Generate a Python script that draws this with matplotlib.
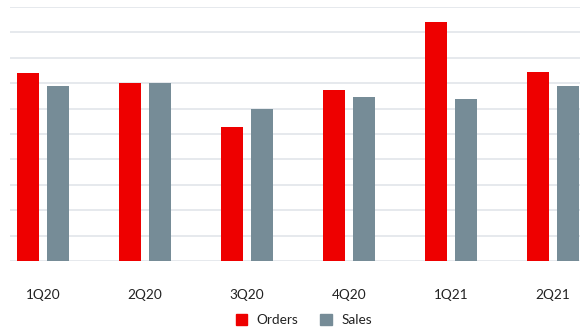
import matplotlib
matplotlib.use("Agg")
import matplotlib.pyplot as plt
import numpy as np
from matplotlib.patches import Patch

categories = ["1Q20", "2Q20", "3Q20", "4Q20", "1Q21", "2Q21"]
orders = [7.39, 7.0, 5.28, 6.73, 9.41, 7.45]
sales = [6.9, 7.0, 5.98, 6.46, 6.37, 6.9]

plt.rcParams['font.family'] = ['Lato', 'DejaVu Sans']

fig = plt.figure(figsize=(5.8, 3.29), dpi=100)
ax = fig.add_axes([10/580, (329-261)/329, 570/580, (261-7)/329])

x = np.arange(len(categories))
w = 0.216
off = 0.147
red = "#EE0000"
gray = "#768C97"
ax.bar(x - off, orders, w, color=red, zorder=3)
ax.bar(x + off, sales, w, color=gray, zorder=3)

ax.set_xlim(-0.324, 5.265)
ax.set_ylim(0, 10)
ax.set_yticks(np.arange(0, 11, 1))
ax.yaxis.grid(True, color="#E1E5EA", linewidth=1.2, zorder=0)
ax.set_yticklabels([])
ax.tick_params(axis='y', length=0)
ax.set_xticks(x)
ax.set_xticklabels(categories, fontsize=9.8, color="#222222")
ax.tick_params(axis='x', length=0, pad=20)
for s in ax.spines.values():
    s.set_visible(False)

handles = [Patch(color=red, label="Orders"), Patch(color=gray, label="Sales")]
fig.legend(handles=handles, loc="center", bbox_to_anchor=(0.524, 9/329), ncol=2,
           frameon=False, fontsize=9.8, handlelength=0.85, handleheight=0.85,
           handletextpad=0.7, columnspacing=1.6, labelcolor="#222222")

fig.savefig("out.png", dpi=100)
